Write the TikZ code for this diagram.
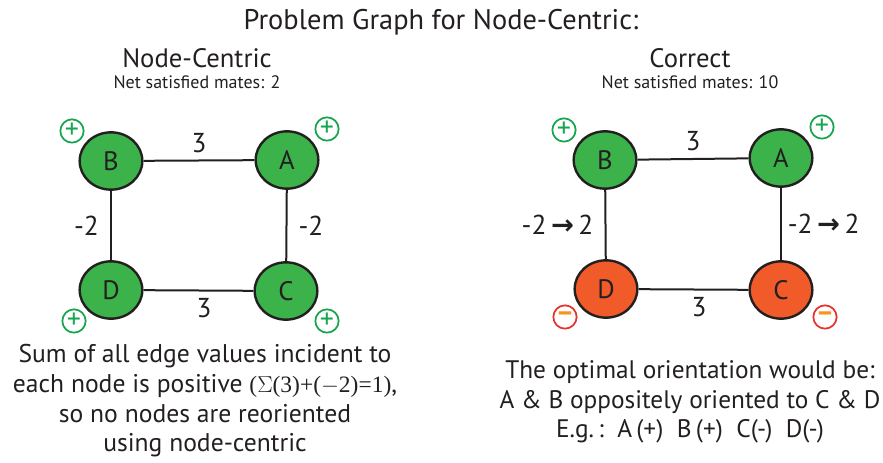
\documentclass[tikz,border=0pt]{standalone}
\usepackage{fontspec}
\setmainfont{PT Sans}
\newfontfamily\sumfont{Liberation Serif}
\newfontfamily\arrowfont{DejaVu Sans}
\usetikzlibrary{shapes.geometric}
\definecolor{vgreen}{RGB}{59,179,74}
\definecolor{vorange}{RGB}{241,90,41}
\definecolor{pgreen}{RGB}{22,166,80}
\definecolor{mred}{RGB}{232,50,46}
\definecolor{mdash}{RGB}{247,148,29}
\definecolor{ink}{RGB}{35,31,32}
\begin{document}
\begin{tikzpicture}[x=0.75pt,y=-0.75pt,
		every node/.style={text=ink,font=\fontsize{20.5}{23}\selectfont},
		vert/.style={ellipse,draw=ink,line width=1.8pt,fill=vgreen,minimum width=47pt,minimum height=43pt,inner sep=0pt,font=\fontsize{20}{22}\selectfont},
		flip/.style={vert,fill=vorange},
		edge/.style={draw=ink,line width=1.5pt},
		plusmark/.style={circle,draw=pgreen,line width=1.3pt,minimum size=17.5pt,inner sep=0pt,text=pgreen,font=\fontsize{21}{21}\selectfont},
		minusmark/.style={circle,draw=mred,line width=1.3pt,minimum size=17.5pt,inner sep=0pt,text=mdash,font=\fontsize{21}{21}\selectfont\bfseries},
		note/.style={align=center,inner sep=0pt,font=\fontsize{19.2}{22.2}\selectfont}]
	\useasboundingbox (0,0) rectangle (883,463);
	% titles
	\node[font=\fontsize{21.3}{24}\selectfont] (title) at (441,22) {Problem Graph for Node-Centric:};
	\node[font=\fontsize{20}{22}\selectfont] (lhead) at (197,58) {Node-Centric};
	\node[font=\fontsize{13.5}{15}\selectfont] (lnet) at (197,82) {Net satisfied mates: 2};
	\node[font=\fontsize{20}{22}\selectfont] (rhead) at (690,58) {Correct};
	\node[font=\fontsize{13.5}{15}\selectfont] (rnet) at (690,82) {Net satisfied mates: 10};
	% node-centric graph
	\node[vert] (lA) at (287,160) {A};
	\node[vert] (lB) at (111,161) {B};
	\node[vert] (lC) at (286,291) {C};
	\node[vert] (lD) at (111,290) {D};
	\draw[edge] (lB) -- node[above=2pt] (lw1) {3} (lA);
	\draw[edge] (lB) -- node[left=5pt] (lw2) {-2} (lD);
	\draw[edge] (lA) -- node[right=5pt] (lw3) {-2} (lC);
	\draw[edge] (lD) -- node[below=2pt,pos=0.55] (lw4) {3} (lC);
	\foreach \n/\x/\y in {pA/327/129,pB/72/131,pC/327/321,pD/74/321}
		\node[plusmark] (l\n) at (\x,\y) {+};
	% correct graph
	\node[vert] (rA) at (781,158) {A};
	\node[vert] (rB) at (605,160) {B};
	\node[flip] (rC) at (781,290) {C};
	\node[flip] (rD) at (606,289) {D};
	\draw[edge] (rB) -- node[above=2pt] (rw1) {3} (rA);
	\draw[edge] (rB) -- node[left=5pt] (rw2) {-2\,{\arrowfont\bfseries →}\,2} (rD);
	\draw[edge] (rA) -- node[right=1pt] (rw3) {-2\,{\arrowfont\bfseries →}\,2} (rC);
	\draw[edge] (rD) -- node[below=2pt,pos=0.55] (rw4) {3} (rC);
	\foreach \n/\x/\y in {pA/822/127,pB/564/130}
		\node[plusmark] (r\n) at (\x,\y) {+};
	\foreach \n/\x/\y in {mC/825/317,mD/565/317}
		\node[minusmark] (r\n) at (\x,\y) {–};
	% notes
	\node[note] (lnote) at (205,401)
		{Sum of all edge values incident to\\each node is positive {\sumfont\fontsize{17.6}{22.2}\selectfont($\Sigma$(3)+($-$2)=1)},\\so no nodes are reoriented\\using node-centric};
	\node[note,font=\fontsize{19}{22.2}\selectfont] (rnote) at (690,402)
		{The optimal orientation would be:\\A \& B oppositely oriented to C \& D\\E.g.\,:\ \ A\,(+)\ \ B\,(+)\ \ C(-)\ \ D(-)};
\end{tikzpicture}
\end{document}
